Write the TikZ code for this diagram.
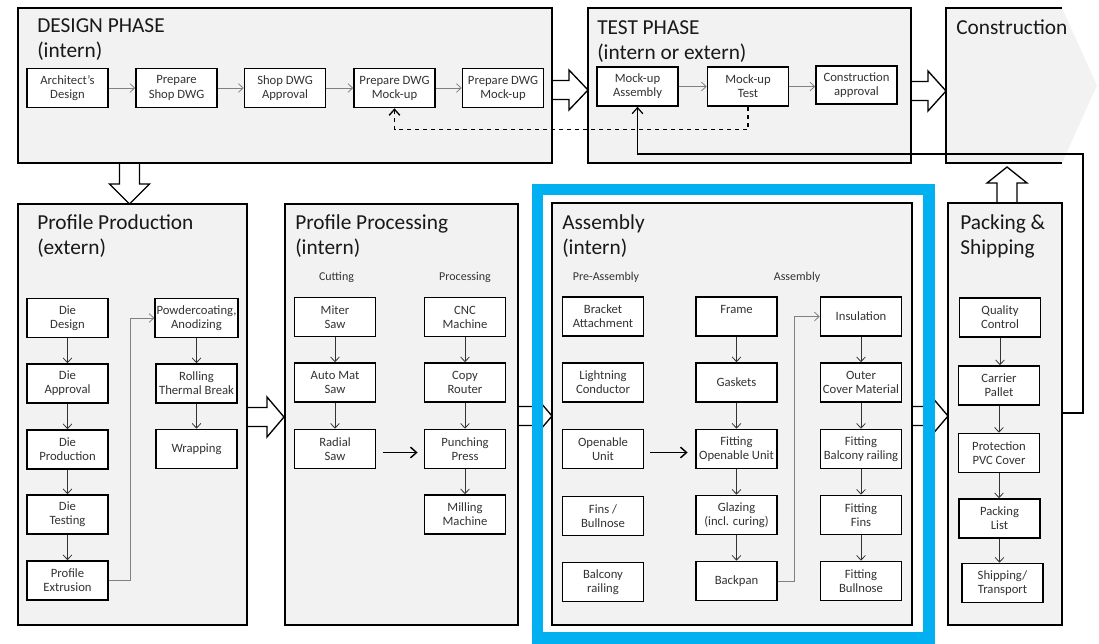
\documentclass[tikz,border=0pt]{standalone}
\usepackage{fontspec}
\setmainfont{Carlito}
\usetikzlibrary{arrows.meta,fit,calc}
\definecolor{panel}{HTML}{F2F2F2}
\definecolor{frameblue}{HTML}{00B0F0}
\definecolor{flowgray}{HTML}{808080}
\tikzset{
  phase/.style={draw=black, line width=1pt, fill=panel, inner sep=0pt},
  group/.style={draw=black, line width=0.6pt, double=panel, double distance=0.9pt, fill=panel, inner sep=0pt},
  stepbox/.style={draw=black, line width=1.2pt, fill=white, minimum width=60.75pt, minimum height=29.25pt,
    inner sep=1pt, align=center, text=black!80, font=\fontsize{9.5}{10.6}\selectfont},
  title/.style={anchor=base west, align=left, inner sep=0pt, text=black!90, font=\fontsize{16}{18.75}\selectfont},
  sublabel/.style={anchor=base, inner sep=0pt, text=black!80, font=\fontsize{9}{10}\selectfont},
  flow/.style={draw=flowgray, line width=0.6pt, -{Straight Barb[length=3.5pt,width=6.5pt]}},
  down/.style={draw=black!80, line width=0.6pt, -{Straight Barb[length=3.5pt,width=6.5pt]}},
  link/.style={draw=black, line width=1.1pt, -{Straight Barb[length=4.5pt,width=8pt]}},
  blockarrow/.style={draw=black, line width=1pt, fill=white, line join=miter},
}
% hollow block arrows: horizontal (tail x, tip x, centre y, signed head length)
\newcommand\blockarrowH[4]{%
  \draw[blockarrow] (#1,#3-9.5) -- ({#2-#4},#3-9.5) -- ({#2-#4},#3-20) -- (#2,#3)
    -- ({#2-#4},#3+20) -- ({#2-#4},#3+9.5) -- (#1,#3+9.5) -- cycle;}
% vertical (centre x, tail y, tip y, head base y)
\newcommand\blockarrowV[4]{%
  \draw[blockarrow] (#1-10,#2) -- (#1-10,#4) -- (#1-20,#4) -- (#1,#3)
    -- (#1+20,#4) -- (#1+10,#4) -- (#1+10,#2) -- cycle;}
\begin{document}
\begin{tikzpicture}[x=0.75pt, y=-0.75pt]
\useasboundingbox (0,0) rectangle (1099,643);

% white interior of the highlight frame around the assembly stage
\fill[white] (537.5,189.5) rectangle (929,638);

% construction stage: light chevron with open right side
\fill[panel] (946,8) -- (1062,8) -- (1097,85.5) -- (1062,163) -- (946,163) -- cycle;
\draw[line width=1pt] (1062,8) -- (946,8) -- (946,163) -- (1062,163);

% block arrows between stages
\blockarrowH{552}{588}{90}{19}
\blockarrowH{911}{946}{91}{18}
\blockarrowV{129.5}{160}{204}{184}
\blockarrowH{247}{284}{417}{17}
\blockarrowH{518}{552}{416}{17}
\blockarrowH{912}{948}{416}{17}
\blockarrowV{1007}{205}{167}{183}

% stage panels
\node[phase, fit={(18,8) (552,163)}] (design) {};
\node[phase, fit={(588,8) (911,163)}] (test) {};
\node[phase, fit={(18,204) (247,625)}] (prod) {};
\node[phase, fit={(285,204) (518,625)}] (proc) {};
\node[phase, fit={(552,203) (912,625)}] (asm) {};
\node[phase, fit={(948,203) (1062,625)}] (pack) {};

% highlight frame
\draw[frameblue, line width=8.6pt] (537.5,189.5) rectangle (929,638);

% titles (anchored on the baseline of their last line)
\node[title] (tdes) at (37,57) {DESIGN PHASE\\(intern)};
\node[title] (ttest) at (597,59) {TEST PHASE\\(intern or extern)};
\node[title] (tcon) at (956,34) {Construction};
\node[title] (tprod) at (37,254) {Profile Production\\(extern)};
\node[title] (tproc) at (295,254) {Profile Processing\\(intern)};
\node[title] (tasm) at (562,254) {Assembly\\(intern)};
\node[title] (tpack) at (960,254) {Packing \&\\Shipping};

% design phase
\node[stepbox] (arch) at (67.5,88) {Architect’s\\Design};
\node[stepbox] (shop) at (176.5,88) {Prepare\\Shop DWG};
\node[stepbox] (appr) at (285,88) {Shop DWG\\Approval};
\node[stepbox] (dwga) at (394.5,88) {Prepare DWG\\Mock-up};
\node[stepbox] (dwgb) at (503,88) {Prepare DWG\\Mock-up};
\draw[flow] (arch) -- (shop);
\draw[flow] (shop) -- (appr);
\draw[flow] (appr) -- (dwga);
\draw[flow] (dwga) -- (dwgb);

% test phase
\node[stepbox] (mua) at (637.5,86.5) {Mock-up\\Assembly};
\node[stepbox] (mut) at (748,86.5) {Mock-up\\Test};
\node[stepbox, minimum height=28.5pt] (capp) at (856.5,85) {Construction\\approval};
\draw[flow] (mua) -- (mut);
\draw[flow] (mut.east) -- (mut.east -| capp.west);
\draw[link, line width=1pt, dashed] (mut.south) -- ++(0,23) -| (dwga.south);

% profile production
\node[stepbox] (dd) at (67.5,318) {Die\\Design};
\node[stepbox] (da) at (67.5,383.5) {Die\\Approval};
\node[stepbox] (dp) at (67.5,449.5) {Die\\Production};
\node[stepbox] (dt) at (67.5,514.5) {Die\\Testing};
\node[stepbox] (pe) at (67.5,580.5) {Profile\\Extrusion};
\node[stepbox] (pc) at (196.5,318) {Powdercoating,\\Anodizing};
\node[stepbox] (rt) at (196.5,383.5) {Rolling\\Thermal Break};
\node[stepbox] (wr) at (196.5,449) {Wrapping};
\draw[down] (dd) -- (da);
\draw[down] (da) -- (dp);
\draw[down] (dp) -- (dt);
\draw[down] (dt) -- (pe);
\draw[down] (pc) -- (rt);
\draw[down] (rt) -- (wr);
\draw[flow] (pe.east) -- ++(22,0) |- (pc.west);

% profile processing
\node[group, fit={(290,290) (383,615)}] (cut) {};
\node[group, fit={(418,290) (512,615)}] (mach) {};
\node[sublabel] (lcut) at (336.5,280) {Cutting};
\node[sublabel] (lmach) at (465,280) {Processing};
\node[stepbox] (ms) at (335,317) {Miter\\Saw};
\node[stepbox] (am) at (335,382.5) {Auto Mat\\Saw};
\node[stepbox] (rs) at (335,449) {Radial\\Saw};
\node[stepbox] (cnc) at (465,317) {CNC\\Machine};
\node[stepbox] (cr) at (465,382.5) {Copy\\Router};
\node[stepbox] (pp) at (465,449) {Punching\\Press};
\node[stepbox] (mm) at (465,514.5) {Milling\\Machine};
\draw[down] (ms) -- (am);
\draw[down] (am) -- (rs);
\draw[down] (cnc) -- (cr);
\draw[down] (cr) -- (pp);
\draw[down] (pp) -- (mm);
\draw[link] (cut) -- (mach);

% assembly
\node[group, fit={(557,290) (650,615)}] (pre) {};
\node[group, fit={(688,290) (906,615)}] (main) {};
\node[sublabel] (lpre) at (606,280) {Pre-Assembly};
\node[sublabel] (lmain) at (797,280) {Assembly};
\node[stepbox] (ba) at (603,316.5) {Bracket\\Attachment};
\node[stepbox] (lc) at (603,382.5) {Lightning\\Conductor};
\node[stepbox] (ou) at (603,449) {Openable\\Unit};
\node[stepbox] (fb) at (603,516) {Fins /\\Bullnose};
\node[stepbox] (br) at (603,582) {Balcony\\railing};
\node[stepbox] (fr) at (736.5,316.5) {Frame\\\mbox{}};
\node[stepbox] (gk) at (736.5,382.5) {Gaskets};
\node[stepbox] (fou) at (736.5,449) {Fitting\\Openable Unit};
\node[stepbox] (gl) at (736.5,515) {Glazing\\(incl. curing)};
\node[stepbox] (bp) at (736.5,581) {Backpan};
\node[stepbox] (ins) at (861,316.5) {Insulation};
\node[stepbox] (oc) at (861,382.5) {Outer\\Cover Material};
\node[stepbox] (fbr) at (861,449) {Fitting\\Balcony railing};
\node[stepbox] (ff) at (861,515) {Fitting\\Fins};
\node[stepbox] (fbn) at (861,581) {Fitting\\Bullnose};
\draw[down] (fr) -- (gk);
\draw[down] (gk) -- (fou);
\draw[down] (fou) -- (gl);
\draw[down] (gl) -- (bp);
\draw[down] (ins) -- (oc);
\draw[down] (oc) -- (fbr);
\draw[down] (fbr) -- (ff);
\draw[down] (ff) -- (fbn);
\draw[flow] (bp.east) -- ++(17,0) |- (ins.west);
\draw[link] (pre) -- (main);

% packing and shipping
\node[stepbox] (qc) at (1000,317.5) {Quality\\Control};
\node[stepbox] (cp) at (999,385.5) {Carrier\\Pallet};
\node[stepbox] (pvc) at (999,453) {Protection\\PVC Cover};
\node[stepbox] (pl) at (999.5,518.5) {Packing\\List};
\node[stepbox] (sh) at (1002.5,583) {Shipping/\\Transport};
\draw[down] (qc.south) -- (qc.south |- cp.north);
\draw[down] (cp.south) -- (cp.south |- pvc.north);
\draw[down] (pvc.south) -- (pvc.south |- pl.north);
\draw[down] (pl.south) -- (pl.south |- sh.north);

% return path from shipping back to the mock-up assembly
\coordinate (fbk) at (1062,413);
\draw[link, line width=0.9pt] (fbk) -- (1083,413) -- (1083,154) -| (mua.south);
\end{tikzpicture}
\end{document}
